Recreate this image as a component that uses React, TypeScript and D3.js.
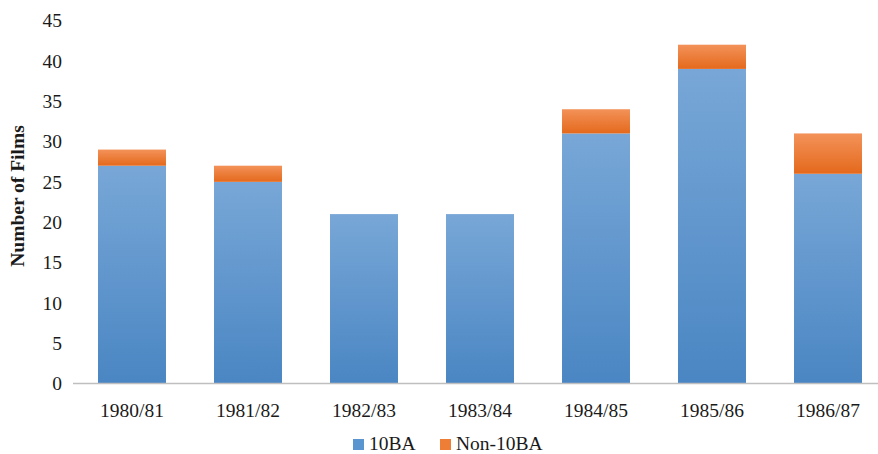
import React from "react";
import * as d3 from "d3";

const seasons = ["1980/81", "1981/82", "1982/83", "1983/84", "1984/85", "1985/86", "1986/87"];
const films10BA = [27, 25, 21, 21, 31, 39, 26];
const filmsNon10BA = [2, 2, 0, 0, 3, 3, 5];
const yTicks = [0, 5, 10, 15, 20, 25, 30, 35, 40, 45];
const seriesNames = ["10BA", "Non-10BA"];

const W = 878;
const H = 454;
const FONT = "'Liberation Serif', 'Times New Roman', serif";

export default function App() {
  const x = d3.scaleBand<string>().domain(seasons).range([74, 886]).paddingInner(0.414).paddingOuter(0.207);
  const y = d3.scaleLinear().domain([0, 45]).range([383.5, 20.5]);

  const rows = seasons.map((s, i) => ({ season: s, a: films10BA[i], b: filmsNon10BA[i] }));
  const stack = d3.stack<any>().keys(["a", "b"])(rows);
  const fills = ["url(#gBlue)", "url(#gOrange)"];

  return (
    <svg width={W} height={H} style={{ position: "absolute", left: 0, top: 0, background: "#fff" }}>
      <defs>
        <linearGradient id="gBlue" x1="0" y1="0" x2="0" y2="1">
          <stop offset="0" stopColor="#78a7d7" />
          <stop offset="1" stopColor="#4a86c3" />
        </linearGradient>
        <linearGradient id="gOrange" x1="0" y1="0" x2="0" y2="1">
          <stop offset="0" stopColor="#f39259" />
          <stop offset="1" stopColor="#e4691c" />
        </linearGradient>
      </defs>

      {stack.map((layer, li) =>
        layer.map((d, i) => {
          const h = y(d[0]) - y(d[1]);
          if (h <= 0) return null;
          return (
            <rect
              key={`${li}-${i}`}
              x={x(seasons[i])}
              y={y(d[1])}
              width={x.bandwidth()}
              height={h}
              fill={fills[li]}
            />
          );
        })
      )}

      <line x1={73} x2={W} y1={y(0)} y2={y(0)} stroke="#bfbfbf" strokeWidth={1.5} />

      {yTicks.map((t) => (
        <text
          key={t}
          x={62}
          y={y(t)}
          dy="0.35em"
          textAnchor="end"
          fontFamily={FONT}
          fontSize={19.5}
          fill="#1a1a1a"
        >
          {t}
        </text>
      ))}

      {seasons.map((s) => (
        <text
          key={s}
          x={(x(s) as number) + x.bandwidth() / 2}
          y={417}
          textAnchor="middle"
          fontFamily={FONT}
          fontSize={19.5}
          fill="#1a1a1a"
        >
          {s}
        </text>
      ))}

      <text
        transform={`translate(24, 196) rotate(-90)`}
        textAnchor="middle"
        fontFamily={FONT}
        fontSize={19.5}
        fontWeight="bold"
        fill="#1a1a1a"
      >
        Number of Films
      </text>

      <g fontFamily={FONT} fontSize={19.5} fill="#1a1a1a">
        <rect x={353} y={439} width={11} height={11} fill="#5b95cf" />
        <text x={369} y={450}>{seriesNames[0]}</text>
        <rect x={440} y={439} width={11} height={11} fill="#ee7d35" />
        <text x={456} y={450}>{seriesNames[1]}</text>
      </g>
    </svg>
  );
}
